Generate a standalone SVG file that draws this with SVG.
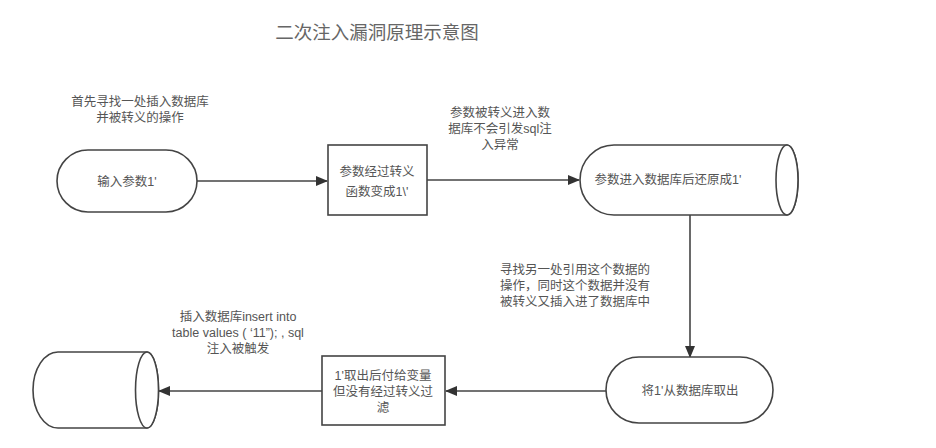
<svg xmlns="http://www.w3.org/2000/svg" width="936" height="448" viewBox="0 0 936 448">
<style>
.s{fill:#fff;stroke:#444;stroke-width:1.6}
.t{font-family:"Liberation Sans","Noto Sans CJK SC",sans-serif;font-size:12.5px;fill:#555;text-anchor:middle}
.c{fill:none;stroke:#444;stroke-width:1.6}
.title{font-family:"Noto Sans CJK SC",sans-serif;font-size:18.5px;fill:#666;text-anchor:middle}
</style>
<defs>
<marker id="ah" markerWidth="12" markerHeight="10" refX="11" refY="5" orient="auto" markerUnits="userSpaceOnUse">
<path d="M0,0 L12,5 L0,10 Z" fill="#333"/>
</marker>
</defs>
<rect width="936" height="448" fill="#fff"/>
<text class="title" x="377" y="39">二次注入漏洞原理示意图</text>
<g id="labels">
<text class="t" x="140" y="106">首先寻找一处插入数据库</text>
<text class="t" x="140" y="122">并被转义的操作</text>
<text class="t" x="500" y="117">参数被转义进入数</text>
<text class="t" x="500" y="133">据库不会引发sql注</text>
<text class="t" x="500" y="149">入异常</text>
<text class="t" x="575" y="274">寻找另一处引用这个数据的</text>
<text class="t" x="575" y="290">操作，同时这个数据并没有</text>
<text class="t" x="575" y="306">被转义又插入进了数据库中</text>
<text class="t" x="238" y="321">插入数据库insert into</text>
<text class="t" x="238" y="337">table values ( ‘11”); , sql</text>
<text class="t" x="238" y="353">注入被触发</text>
</g>
<g id="connectors">
<line class="c" x1="197" y1="181" x2="327" y2="181" marker-end="url(#ah)"/>
<line class="c" x1="427" y1="180" x2="579" y2="180" marker-end="url(#ah)"/>
<line class="c" x1="690" y1="215" x2="690" y2="357" marker-end="url(#ah)"/>
<line class="c" x1="606" y1="391" x2="446" y2="391" marker-end="url(#ah)"/>
<line class="c" x1="322" y1="391" x2="159" y2="391" marker-end="url(#ah)"/>
</g>
<g id="n1">
<rect class="s" x="57" y="150" width="140" height="62" rx="31" ry="31"/>
<text class="t" x="127" y="186">输入参数1'</text>
</g>
<g id="n2">
<rect class="s" x="328" y="145" width="99" height="70"/>
<text class="t" x="377" y="176">参数经过转义</text>
<text class="t" x="377" y="196">函数变成1\'</text>
</g>
<g id="n3">
<path class="s" d="M614,145 L787,145 A11,35 0 0 1 787,215 L614,215 A34,35 0 0 1 614,145 Z"/>
<ellipse class="s" cx="787" cy="180" rx="11" ry="35"/>
<text class="t" x="668" y="184">参数进入数据库后还原成1'</text>
</g>
<g id="n4">
<rect class="s" x="606" y="357" width="167" height="66" rx="33" ry="33"/>
<text class="t" x="690" y="395">将1'从数据库取出</text>
</g>
<g id="n5">
<rect class="s" x="322" y="356" width="123" height="69"/>
<text class="t" x="383" y="380">1'取出后付给变量</text>
<text class="t" x="383" y="396">但没有经过转义过</text>
<text class="t" x="383" y="412">滤</text>
</g>
<g id="n6">
<path class="s" d="M58,352 L147,352 A11.5,38 0 0 1 147,428 L58,428 A25,38 0 0 1 58,352 Z"/>
<ellipse class="s" cx="147" cy="390" rx="11.5" ry="38"/>
</g>
</svg>
